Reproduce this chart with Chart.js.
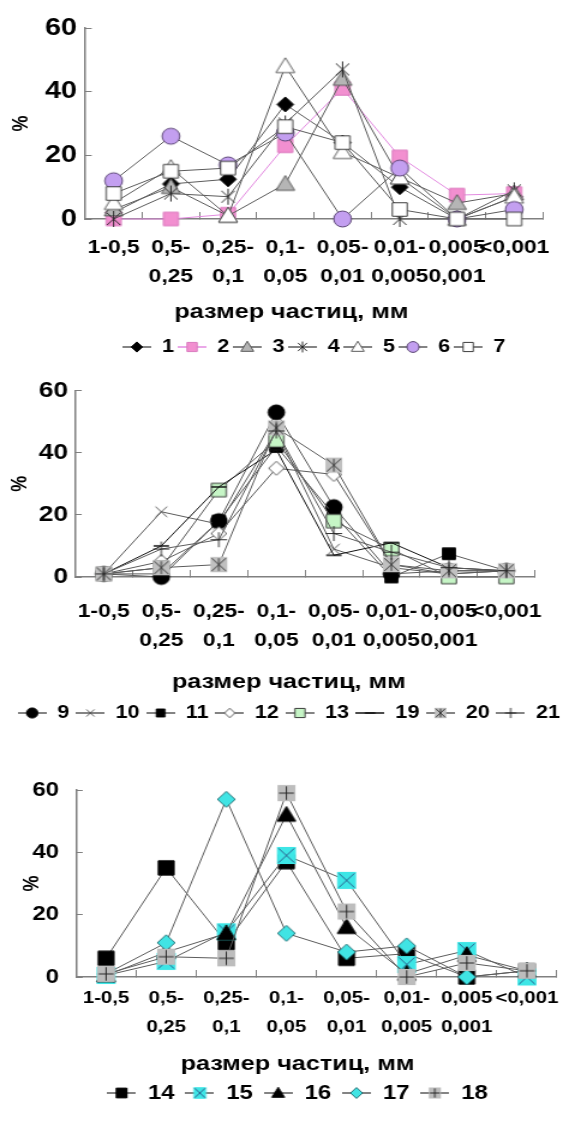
<!DOCTYPE html>
<html>
<head>
<meta charset="utf-8">
<script src="https://cdn.jsdelivr.net/npm/chart.js@4.4.0/dist/chart.umd.min.js"></script>
<style>
  html, body { margin: 0; padding: 0; background: #fff; overflow: hidden; }
  /* the source picture is stretched sideways, so each panel is drawn narrow and widened */
  .panel { position: absolute; left: 0; width: 479px; transform: scaleX(1.2004); transform-origin: 0 0; }
</style>
</head>
<body>
<div class="panel" style="top:0; height:366px"><canvas id="chart1"></canvas></div>
<div class="panel" style="top:366px; height:366px"><canvas id="chart2"></canvas></div>
<div class="panel" style="top:732px; height:389px"><canvas id="chart3"></canvas></div>

<script>
// ---- data ----
const categories = ['1-0,5', ['0,5-', '0,25'], ['0,25-', '0,1'], ['0,1-', '0,05'],
                    ['0,05-', '0,01'], ['0,01-', '0,005'], ['0,005', '0,001'], '<0,001'];
const yTicks = [0, 20, 40, 60];
const axisTitle = 'размер частиц, мм';
const yTitle = '%';

// chart 1
const names1 = ['1', '2', '3', '4', '5', '6', '7'];
const s1 = [2, 11, 12.5, 36, 24, 10, 0, 7];
const s2 = [0, 0, 1.5, 23, 41, 19.5, 7.5, 8];
const s3 = [3, 10, 1, 11, 44, 13, 5, 8];
const s4 = [0, 8, 7, 30, 47, 0, 0, 9];
const s5 = [5, 16, 1, 48, 21, 13, 0, 7];
const s6 = [12, 26, 17, 27, 0, 16, 0, 3];
const s7 = [8, 15, 16, 29, 24, 3, 0, 0];

// chart 2
const names2 = ['9', '10', '11', '12', '13', '19', '20', '21'];
const s9 = [1, 0, 18, 53, 22.5, 1, 2, 2];
const s10 = [1, 21, 17, 47, 9, 3, 1, 2];
const s11 = [1, 1, 18, 42, 20, 0, 7.5, 2];
const s12 = [1, 5, 14, 35, 33, 4, 1, 2];
const s13 = [1, 3, 28, 44, 18, 9, 0, 0];
const s19 = [1, 10, 29, 41, 7, 11, 3, 2];
const s20 = [1, 3, 4, 48, 36, 4, 2, 2];
const s21 = [1, 9, 12, 47, 14, 8, 3, 2];

// chart 3
const names3 = ['14', '15', '16', '17', '18'];
const s14 = [6, 35, 11, 37, 6, 7.5, 0, 2];
const s15 = [0.5, 5, 14.5, 39, 31, 4, 8.5, 0];
const s16 = [0.5, 8, 14, 52, 16, 1, 7, 2];
const s17 = [1, 11, 57, 14, 8, 10, 0, 2];
const s18 = [1, 6.5, 6, 59, 21, 0, 4.5, 2];

// ---- styles ----
const FONT = 'Liberation Sans, Arial, sans-serif';
const AXIS = '#808080';
const LINE = '#5b5b5b';
const SQUEEZE = 0.92;   // markers look only ~1.1x wider than tall in the source

const looks1 = [
  { kind: 'diamond', size: 15, fill: '#000', stroke: '#000', line: LINE },
  { kind: 'square', size: 15, fill: '#f28fd0', stroke: '#d878bd', line: '#e38be0' },
  { kind: 'triangle', size: 17, fill: '#b5b5b5', stroke: '#555', line: LINE },
  { kind: 'star', size: 16, fill: null, stroke: '#222', line: LINE },
  { kind: 'triangle', size: 17, fill: '#fff', stroke: '#555', line: LINE },
  { kind: 'circle', size: 16, fill: '#c39ff0', stroke: '#55406e', line: LINE },
  { kind: 'square', size: 15, fill: '#fff', stroke: '#333', line: LINE }
];
const looks2 = [
  { kind: 'circle', size: 15, fill: '#000', stroke: '#000', line: LINE },
  { kind: 'x', size: 14, fill: null, stroke: '#555', line: LINE },
  { kind: 'square', size: 13, fill: '#000', stroke: '#000', line: LINE },
  { kind: 'diamond', size: 14, fill: '#fff', stroke: '#555', line: LINE },
  { kind: 'square', size: 15, fill: '#c6f5c6', stroke: '#333', line: LINE },
  { kind: 'dash', size: 14, fill: null, stroke: '#111', line: '#111' },
  { kind: 'boxStar', size: 17, fill: '#c0c0c0', stroke: '#333', line: LINE },
  { kind: 'plus', size: 15, fill: null, stroke: '#222', line: LINE }
];
const looks3 = [
  { kind: 'square', size: 16, fill: '#000', stroke: '#000', line: LINE },
  { kind: 'boxX', size: 19, fill: '#3de6e6', stroke: '#2a5a8a', line: LINE },
  { kind: 'triangle', size: 17, fill: '#000', stroke: '#000', line: LINE },
  { kind: 'diamond', size: 16, fill: '#40e4e4', stroke: '#1d6b70', line: LINE },
  { kind: 'boxPlus', size: 18, fill: '#bdbdbd', stroke: '#222', line: LINE }
];

function drawShape(ctx, kind, r, fill, stroke) {
  ctx.lineWidth = 1;
  ctx.strokeStyle = stroke;
  ctx.fillStyle = fill || '#fff';
  ctx.beginPath();
  if (kind === 'circle') {
    ctx.arc(0, 0, r, 0, Math.PI * 2);
  } else if (kind === 'square') {
    ctx.rect(-r * 0.9, -r * 0.9, r * 1.8, r * 1.8);
  } else if (kind === 'diamond') {
    ctx.moveTo(0, -r); ctx.lineTo(r, 0); ctx.lineTo(0, r); ctx.lineTo(-r, 0); ctx.closePath();
  } else if (kind === 'triangle') {
    ctx.moveTo(0, -r); ctx.lineTo(r, r * 0.75); ctx.lineTo(-r, r * 0.75); ctx.closePath();
  } else if (kind.startsWith('box')) {
    ctx.rect(-r * 0.9, -r * 0.9, r * 1.8, r * 1.8);
    ctx.fill();
    ctx.beginPath();
    const a = r * 0.75;
    if (kind === 'boxX' || kind === 'boxStar') {
      ctx.moveTo(-a, -a); ctx.lineTo(a, a); ctx.moveTo(a, -a); ctx.lineTo(-a, a);
    }
    if (kind === 'boxPlus') {
      ctx.moveTo(-a, 0); ctx.lineTo(a, 0);
    }
    if (kind === 'boxPlus' || kind === 'boxStar') {
      ctx.moveTo(0, -a); ctx.lineTo(0, a);
    }
    ctx.stroke();
    return;
  } else {
    const a = r * 0.75;
    if (kind === 'x' || kind === 'star') {
      ctx.moveTo(-a, -a); ctx.lineTo(a, a); ctx.moveTo(a, -a); ctx.lineTo(-a, a);
    }
    if (kind === 'plus') {
      ctx.moveTo(-r, 0); ctx.lineTo(r, 0);
    }
    if (kind === 'plus' || kind === 'star') {
      ctx.moveTo(0, -r); ctx.lineTo(0, r);
    }
    if (kind === 'dash') {
      ctx.lineWidth = 1.5;
      ctx.moveTo(-r, 0); ctx.lineTo(r, 0);
    }
    ctx.stroke();
    return;
  }
  ctx.fill();
  ctx.stroke();
}

function markerCanvas(look, legend) {
  const r = legend ? look.size * 0.34 : look.size / 2;
  const w = legend ? 24 : Math.ceil(look.size * SQUEEZE) + 4;
  const h = legend ? 18 : look.size + 4;
  const c = document.createElement('canvas');
  c.width = w;
  c.height = h;
  const ctx = c.getContext('2d');
  if (legend) {
    ctx.strokeStyle = look.line;
    ctx.lineWidth = 1.5;
    ctx.beginPath();
    ctx.moveTo(0, h / 2);
    ctx.lineTo(w, h / 2);
    ctx.stroke();
  }
  ctx.translate(w / 2, h / 2);
  ctx.scale(SQUEEZE, 1);
  drawShape(ctx, look.kind, r, look.fill, look.stroke);
  return c;
}

function boldFont(size, lineHeight) {
  const f = { family: FONT, weight: 'bold', size: size };
  if (lineHeight) f.lineHeight = lineHeight;
  return f;
}

function buildChart(id, names, series, looks, lay) {
  const datasets = names.map((name, i) => ({
    label: name,
    data: series[i],
    borderColor: looks[i].line,
    backgroundColor: looks[i].fill || '#fff',
    borderWidth: 1,
    pointStyle: markerCanvas(looks[i], false),
    legendMark: markerCanvas(looks[i], true),
    order: names.length - i,
    clip: false
  }));

  return new Chart(document.getElementById(id), {
    type: 'line',
    data: { labels: categories, datasets: datasets },
    options: {
      responsive: true,
      maintainAspectRatio: false,
      animation: false,
      events: [],
      layout: { padding: lay.padding },
      scales: {
        x: {
          offset: true,
          grid: { offset: true, drawOnChartArea: false, tickLength: -7, color: AXIS },
          border: { color: AXIS, width: 1.5 },
          ticks: {
            autoSkip: false, maxRotation: 0, minRotation: 0,
            padding: lay.xPad, color: '#000', font: boldFont(lay.xFont, '29px')
          },
          afterFit: s => { s.height = lay.xHeight; }
        },
        y: {
          min: 0,
          max: 60,
          afterBuildTicks: s => { s.ticks = yTicks.map(v => ({ value: v })); },
          grid: { drawOnChartArea: false, tickLength: -5.6, color: AXIS },
          border: { color: AXIS, width: 1.5 },
          ticks: { padding: lay.yPad, color: '#000', font: boldFont(lay.yFont) },
          title: { display: true, text: yTitle, padding: 0, color: '#000', font: boldFont(18) },
          afterFit: s => { s.width = lay.yWidth; }
        }
      },
      plugins: {
        legend: {
          position: 'bottom',
          fullSize: lay.legendFull,
          labels: {
            usePointStyle: true,
            pointStyleWidth: 24,
            padding: lay.legendPad,
            color: '#000',
            font: boldFont(lay.legendFont),
            sort: (a, b) => a.datasetIndex - b.datasetIndex,
            generateLabels: chart => Chart.defaults.plugins.legend.labels.generateLabels(chart)
              .map(item => Object.assign(item, { pointStyle: chart.data.datasets[item.datasetIndex].legendMark }))
          }
        },
        title: {
          display: true,
          text: axisTitle,
          position: 'bottom',
          weight: 500,
          color: '#000',
          padding: lay.titlePad,
          font: boldFont(21, lay.titleLH)
        },
        tooltip: { enabled: false }
      }
    }
  });
}

buildChart('chart1', names1, [s1, s2, s3, s4, s5, s6, s7], looks1, {
  padding: { left: 7, right: 0.5, top: 28, bottom: 0 },
  yWidth: 63.8, yPad: 12.2, yFont: 24,
  xFont: 19, xPad: 21, xHeight: 81,
  titlePad: { top: 0, bottom: 11 }, titleLH: '24px',
  legendFull: false, legendPad: 3, legendFont: 18
});

buildChart('chart2', names2, [s9, s10, s11, s12, s13, s19, s20, s21], looks2, {
  padding: { left: 6.7, right: 4.5, top: 24, bottom: 0 },
  yWidth: 55.8, yPad: 11.4, yFont: 22,
  xFont: 19, xPad: 27.5, xHeight: 89.5,
  titlePad: { top: 3.5, bottom: 4.5 }, titleLH: '24px',
  legendFull: true, legendPad: 5.5, legendFont: 18
});

buildChart('chart3', names3, [s14, s15, s16, s17, s18], looks3, {
  padding: { left: 16.7, right: 0, top: 58, bottom: 8 },
  yWidth: 46.6, yPad: 19.7, yFont: 20,
  xFont: 17, xPad: 13.5, xHeight: 76,
  titlePad: { top: 1, bottom: 0 }, titleLH: '20px',
  legendFull: true, legendPad: 9, legendFont: 20
});
</script>
</body>
</html>
